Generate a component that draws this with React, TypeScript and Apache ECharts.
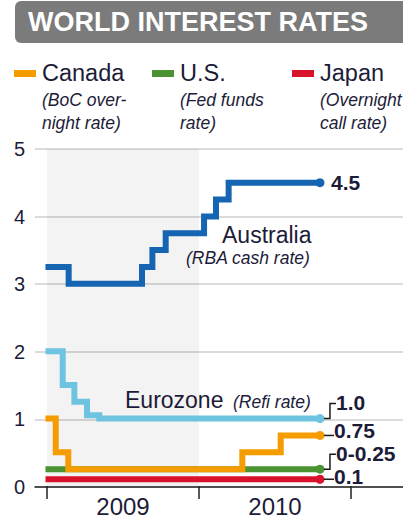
import React, { useEffect, useRef } from "react";
import * as echarts from "echarts";

// ---------- data ----------
const years = ["2009", "2010"];
// x = months since start of 2009, y = rate (%)
const australia: number[][] = [[-0.12, 3.25], [1.71, 3.0], [7.5, 3.25], [8.32, 3.5], [9.37, 3.75], [12.4, 4.0], [13.34, 4.25], [14.34, 4.5], [21.55, 4.5]];
const eurozone: number[][] = [[-0.12, 2.0], [1.24, 1.5], [2.16, 1.25], [3.16, 1.05], [4.13, 1.0], [21.55, 1.0]];
const canada: number[][] = [[-0.12, 1.0], [0.69, 0.5], [1.68, 0.25], [15.42, 0.5], [18.45, 0.75], [21.55, 0.75]];
const usa: number[][] = [[-0.12, 0.25], [21.55, 0.25]];
const japan: number[][] = [[-0.12, 0.1], [21.55, 0.1]];
const endTexts = { australia: "4.5", eurozone: "1.0", canada: "0.75", usa: "0-0.25", japan: "0.1" };

const legendNames = ["Canada", "U.S.", "Japan"];
const legendNotes = [["(BoC over-", "night rate)"], ["(Fed funds", "rate)"], ["(Overnight", "call rate)"]];

// ---------- styles ----------
const TEXT = "#1c1c38";
const FONT = "'Liberation Sans', Arial, Helvetica, sans-serif";
const COLORS = { australia: "#1565b3", eurozone: "#6ec4e0", canada: "#f59c00", usa: "#4a9232", japan: "#d9122b" };
const legendColors = [COLORS.canada, COLORS.usa, COLORS.japan];
const legendX = [14, 152, 292];

type Key = keyof typeof COLORS;
const seriesOrder: { key: Key; data: number[][] }[] = [
  { key: "japan", data: japan },
  { key: "usa", data: usa },
  { key: "canada", data: canada },
  { key: "eurozone", data: eurozone },
  { key: "australia", data: australia },
];
const labelLayout: Record<Key, { dx: number; dy: number; conn: "none" | "line" | "bracket" }> = {
  australia: { dx: 11, dy: 0, conn: "none" },
  eurozone: { dx: 16, dy: -16, conn: "bracket" },
  canada: { dx: 14, dy: -5, conn: "line" },
  usa: { dx: 16, dy: -16, conn: "bracket" },
  japan: { dx: 14, dy: -3, conn: "line" },
};

function buildOption() {
  const series: any[] = [
    {
      type: "line",
      xAxisIndex: 1,
      yAxisIndex: 0,
      data: [],
      silent: true,
      markArea: {
        silent: true,
        itemStyle: { color: "rgba(0,0,0,0.048)" },
        data: [[{ xAxis: -0.12 }, { xAxis: 12 }]],
      },
    },
  ];
  seriesOrder.forEach(({ key, data }) => {
    const last = data.length - 1;
    series.push({
      type: "line",
      name: key,
      xAxisIndex: 1,
      yAxisIndex: 0,
      step: "end",
      clip: false,
      silent: true,
      symbol: "none",
      showSymbol: true,
      lineStyle: { color: COLORS[key], width: 6, cap: "butt", join: "miter" },
      itemStyle: { color: COLORS[key] },
      emphasis: { disabled: true },
      data: data.map((p, i) =>
        i === last ? { value: p, symbol: "circle", symbolSize: 9, itemStyle: { color: COLORS[key] } } : p
      ),
    });
  });
  return {
    animation: false,
    grid: [
      { left: 47, right: 52, top: 149, bottom: 31 },
      { left: 35, right: 0, top: 149, bottom: 31 },
    ],
    xAxis: [
      {
        type: "category",
        gridIndex: 0,
        data: years,
        boundaryGap: true,
        axisLine: { show: false },
        axisTick: { show: true, length: 13, interval: 0, lineStyle: { color: "#222", width: 1.5 } },
        axisLabel: { fontSize: 24, color: TEXT, fontFamily: FONT, margin: 8 },
        splitLine: { show: false },
      },
      { type: "value", gridIndex: 0, min: 0, max: 24, show: false },
      {
        type: "value",
        gridIndex: 1,
        min: 0,
        max: 1,
        axisLine: { show: true, lineStyle: { color: "#222", width: 1.5 } },
        axisTick: { show: false },
        axisLabel: { show: false },
        splitLine: { show: false },
      },
    ],
    yAxis: [
      { type: "value", gridIndex: 0, min: 0, max: 5, show: false },
      {
        type: "value",
        gridIndex: 1,
        min: 0,
        max: 5,
        interval: 1,
        axisLine: { show: false },
        axisTick: { show: false },
        axisLabel: { fontSize: 20, color: TEXT, margin: 10, fontFamily: FONT },
        splitLine: { lineStyle: { color: "#cfcfcf", width: 1.5 } },
      },
    ],
    series,
  };
}

function staticGraphics(): any[] {
  const g: any[] = [
    { type: "rect", shape: { x: 15, y: 1, width: 420, height: 42, r: 6 }, style: { fill: "#7b7b7b" }, z: 10 },
    {
      type: "text",
      x: 28,
      y: 22,
      z: 11,
      style: { text: "WORLD INTEREST RATES", fill: "#ffffff", font: `bold 27px ${FONT}`, verticalAlign: "middle", align: "left" },
    },
    { type: "text", x: 222, y: 235, z: 11, style: { text: "Australia", fill: TEXT, font: `23px ${FONT}`, verticalAlign: "middle" } },
    { type: "text", x: 186, y: 258, z: 11, style: { text: "(RBA cash rate)", fill: TEXT, font: `italic 17.5px ${FONT}`, verticalAlign: "middle" } },
    { type: "text", x: 125, y: 400, z: 11, style: { text: "Eurozone", fill: TEXT, font: `23px ${FONT}`, verticalAlign: "middle" } },
    { type: "text", x: 233, y: 402, z: 11, style: { text: "(Refi rate)", fill: TEXT, font: `italic 17.5px ${FONT}`, verticalAlign: "middle" } },
  ];
  legendNames.forEach((name, i) => {
    const x = legendX[i];
    g.push({ type: "rect", shape: { x, y: 70, width: 22, height: 7 }, style: { fill: legendColors[i] }, z: 10 });
    g.push({ type: "text", x: x + 28, y: 72.5, z: 11, style: { text: name, fill: TEXT, font: `23.5px ${FONT}`, verticalAlign: "middle" } });
    legendNotes[i].forEach((line, j) => {
      g.push({
        type: "text",
        x: x + 28,
        y: 99.5 + j * 23.5,
        z: 11,
        style: { text: line, fill: TEXT, font: `italic 17.5px ${FONT}`, verticalAlign: "middle" },
      });
    });
  });
  return g;
}

export default function App() {
  const ref = useRef<HTMLDivElement>(null);
  useEffect(() => {
    document.body.style.margin = "0";
    const chart = echarts.init(ref.current!, null, { renderer: "svg" });
    chart.setOption(buildOption() as any);
    const dyn: any[] = [];
    seriesOrder.forEach(({ key, data }) => {
      const last = data[data.length - 1];
      const pt = chart.convertToPixel({ xAxisIndex: 1, yAxisIndex: 0 } as any, last) as number[];
      const [px, py] = pt;
      const L = labelLayout[key];
      dyn.push({
        type: "text",
        x: px + L.dx,
        y: py + L.dy,
        z: 11,
        style: { text: endTexts[key], fill: TEXT, font: `bold 21px ${FONT}`, verticalAlign: "middle", align: "left" },
      });
      if (L.conn === "line") {
        dyn.push({
          type: "polyline",
          z: 9,
          shape: { points: [[px + 4, py], [px + L.dx, py]] },
          style: { stroke: "#1a1a1a", lineWidth: 1.5, fill: null },
        });
      } else if (L.conn === "bracket") {
        dyn.push({
          type: "polyline",
          z: 9,
          shape: { points: [[px + 4, py], [px + 10, py], [px + 10, py + L.dy + 1], [px + L.dx, py + L.dy + 1]] },
          style: { stroke: "#1a1a1a", lineWidth: 1.5, fill: null },
        });
      }
    });
    chart.setOption({ graphic: [...staticGraphics(), ...dyn] } as any);
    return () => chart.dispose();
  }, []);
  return <div ref={ref} style={{ width: 403, height: 518 }} />;
}
